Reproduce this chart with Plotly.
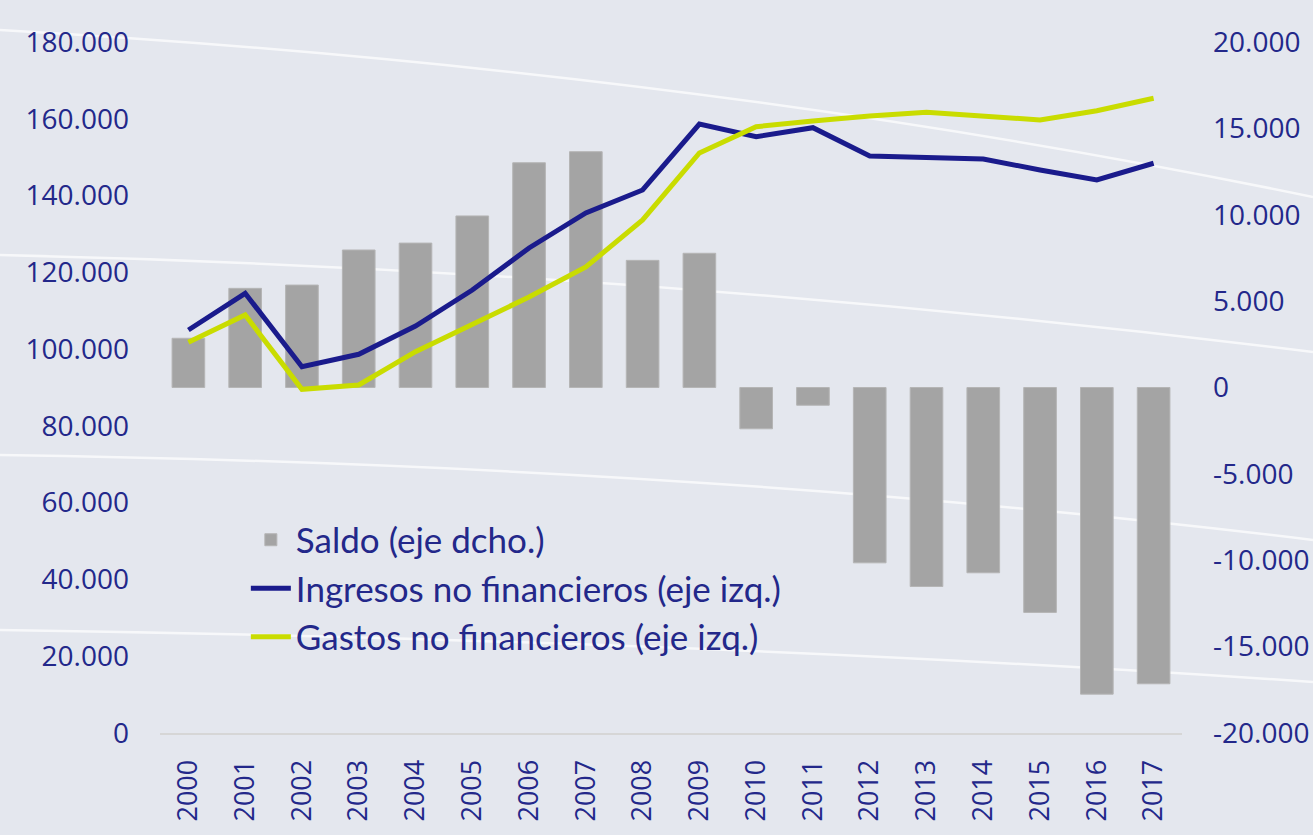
import plotly.graph_objects as go

years = [str(y) for y in range(2000, 2018)]

saldo = [2850, 5740, 5930, 7960, 8360, 9930, 13010, 13650, 7360, 7770,
         -2390, -1025, -10150, -11520, -10725, -13020, -17750, -17150]

ingresos = [104980, 114540, 95420, 98650, 106000, 115400, 126340, 135460, 141450, 158640,
            155340, 157680, 150310, 149970, 149530, 146660, 144060, 148410]

gastos = [101780, 108890, 89530, 90650, 99330, 106290, 113580, 121390, 133640, 151090,
          157940, 159430, 160730, 161690, 160540, 159690, 162110, 165340]

left_vals = list(range(0, 180001, 20000))
left_text = ["0", "20.000", "40.000", "60.000", "80.000", "100.000",
             "120.000", "140.000", "160.000", "180.000"]
right_vals = list(range(-20000, 20001, 5000))
right_text = ["-20.000", "-15.000", "-10.000", "-5.000", "0",
              "5.000", "10.000", "15.000", "20.000"]

TXT = "#23288a"
BG = "#e4e7ee"

fig = go.Figure()
fig.add_trace(go.Bar(x=years, y=saldo, name="Saldo (eje dcho.)",
                     marker=dict(color="#a4a4a4", line=dict(color="#b5b5b5", width=1)),
                     width=0.575, yaxis="y"))
fig.add_trace(go.Scatter(x=years, y=ingresos, name="Ingresos no financieros (eje izq.)",
                         mode="lines", line=dict(color="#1a1b8c", width=5), yaxis="y2"))
fig.add_trace(go.Scatter(x=years, y=gastos, name="Gastos no financieros (eje izq.)",
                         mode="lines", line=dict(color="#c9dc00", width=5), yaxis="y2"))

L, R, T, B = 160, 1182, 42, 733
W, H = 1022, 691

def px(x, y):
    return (x - L) / W, (B - y) / H

def curve(p0, c, p1):
    a = px(*p0); b = px(*c); d = px(*p1)
    return f"M {a[0]},{a[1]} Q {b[0]},{b[1]} {d[0]},{d[1]}"

shapes = []
for p0, c, p1 in [((0, 30), (700, 70), (1313, 197)),
                  ((0, 255), (650, 270), (1313, 352)),
                  ((0, 455), (700, 465), (1313, 540)),
                  ((0, 630), (700, 640), (1313, 682))]:
    shapes.append(dict(type="path", xref="paper", yref="paper", path=curve(p0, c, p1),
                       line=dict(color="rgba(255,255,255,0.7)", width=2.5), layer="below"))

fig.update_layout(
    width=1313, height=835, autosize=False,
    margin=dict(l=L, r=1313 - R, t=T, b=835 - B, autoexpand=False),
    paper_bgcolor=BG, plot_bgcolor="rgba(0,0,0,0)",
    font=dict(family="Open Sans", color=TXT, size=26),
    showlegend=True,
    shapes=shapes,
    legend=dict(x=0.084, y=0.322, xanchor="left", yanchor="top",
                bgcolor="rgba(0,0,0,0)", font=dict(family="Lato", size=35, color=TXT),
                traceorder="normal", tracegroupgap=0, itemwidth=40),
    xaxis=dict(type="category", tickangle=-90, showgrid=False, showline=True,
               linecolor="#d6d6d6", linewidth=2, ticks="", ticklabelstandoff=14,
               tickfont=dict(size=27, family="Open Sans", color=TXT), zeroline=False),
    yaxis=dict(side="right", range=[-20000, 20000], tickvals=right_vals, ticktext=right_text,
               showgrid=False, zeroline=False, showline=False, ticks="",
               ticklabelstandoff=30, tickfont=dict(size=28, family="Open Sans", color=TXT)),
    yaxis2=dict(side="left", overlaying="y", range=[0, 180000], tickvals=left_vals,
                ticktext=left_text, showgrid=False, zeroline=False, showline=False,
                ticks="", ticklabelstandoff=30,
                tickfont=dict(size=28, family="Open Sans", color=TXT)),
)

fig.write_html("out.html", config={"displayModeBar": False},
               post_script="document.body.style.margin='0px';")
